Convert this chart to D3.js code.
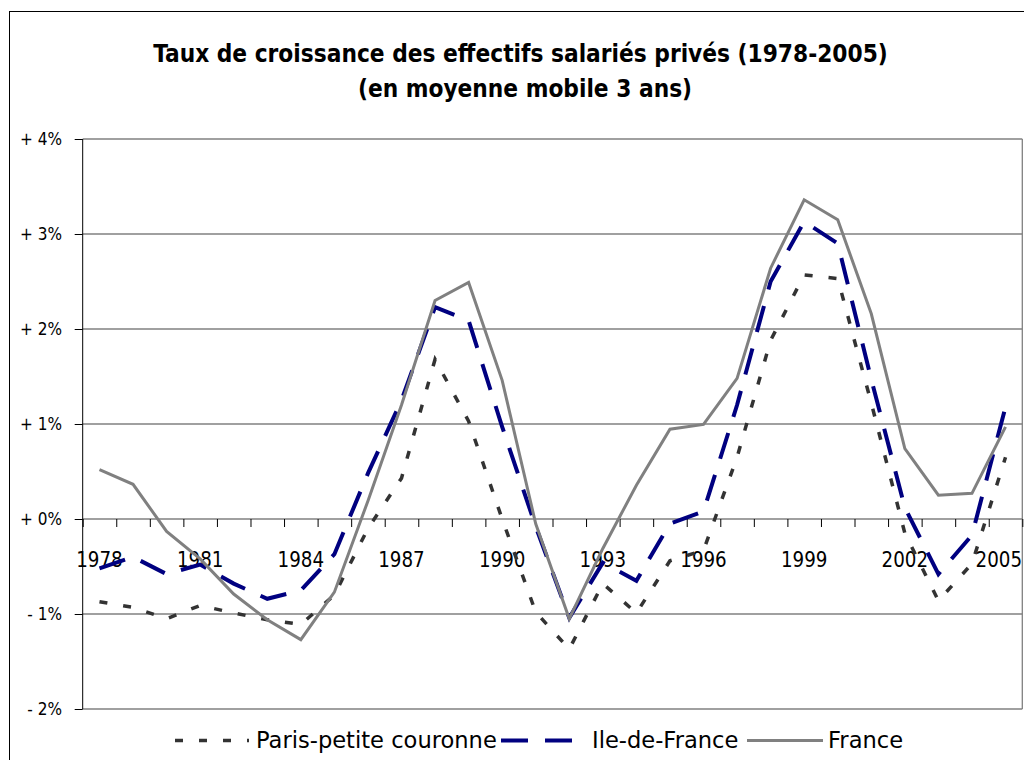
<!DOCTYPE html>
<html><head><meta charset="utf-8">
<script src="https://cdn.jsdelivr.net/npm/d3@7"></script>
<style>body{margin:0;background:#fff;overflow:hidden}</style>
</head><body><svg id="c" width="1024" height="760"></svg>
<script>
const years = ["1978","1979","1980","1981","1982","1983","1984","1985","1986","1987","1988","1989","1990","1991","1992","1993","1994","1995","1996","1997","1998","1999","2000","2001","2002","2003","2004","2005"];
const parisPC = [-0.87,-0.93,-1.05,-0.91,-0.99,-1.06,-1.11,-0.80,-0.10,0.43,1.68,1.03,0.00,-0.98,-1.37,-0.68,-0.99,-0.44,-0.33,0.65,1.88,2.57,2.53,1.22,-0.15,-0.86,-0.47,0.65];
const ileDeFrance = [-0.52,-0.40,-0.58,-0.48,-0.68,-0.84,-0.75,-0.37,0.48,1.25,2.23,2.09,0.97,-0.08,-1.04,-0.46,-0.65,-0.05,0.08,1.20,2.50,3.13,2.90,1.47,0.12,-0.58,-0.17,1.18];
const france = [0.52,0.365,-0.13,-0.42,-0.79,-1.06,-1.27,-0.77,0.19,1.20,2.30,2.49,1.46,-0.05,-1.05,-0.31,0.355,0.945,0.995,1.48,2.64,3.36,3.15,2.16,0.74,0.25,0.27,0.97];
const xTickLabels = ["1978","1981","1984","1987","1990","1993","1996","1999","2002","2005"];
const yTickValues = [-2,-1,0,1,2,3,4];
const yTickLabels = ["- 2%","- 1%","+ 0%","+ 1%","+ 2%","+ 3%","+ 4%"];
const seriesNames = ["Paris-petite couronne","Ile-de-France","France"];
const titleLines = ["Taux de croissance des effectifs salariés privés (1978-2005)","(en moyenne mobile 3 ans)"];

const svg = d3.select("#c");
const FONT = "'DejaVu Sans', sans-serif";
const FONTC = "'DejaVu Sans Condensed', 'DejaVu Sans', sans-serif";

function fitSize(text, family, weight, target){
  const t = svg.append("text").attr("font-family",family).attr("font-weight",weight)
    .attr("font-size",100).text(text);
  const w = t.node().getComputedTextLength();
  t.remove();
  return 100*target/w;
}

// outer chart border
svg.append("rect").attr("x",9.5).attr("y",11.5).attr("width",1100).attr("height",800)
  .attr("fill","none").attr("stroke","#000").attr("stroke-width",1);

// title
const titleSize = fitSize(titleLines[0], FONTC, "bold", 735);
svg.append("text").attr("x",520.5).attr("y",62).attr("text-anchor","middle")
  .attr("font-family",FONTC).attr("font-weight","bold").attr("font-size",titleSize)
  .attr("fill","#000").text(titleLines[0]);
svg.append("text").attr("x",525).attr("y",97).attr("text-anchor","middle")
  .attr("font-family",FONTC).attr("font-weight","bold").attr("font-size",titleSize)
  .attr("fill","#000").text(titleLines[1]);

// scales
const L = 82.7, R = 1022.3, T = 139, B = 709;
const y = d3.scaleLinear().domain([-2,4]).range([B,T]);
const xb = d3.scaleBand().domain(years).range([L,R]).padding(0);
const xc = d => xb(d) + xb.bandwidth()/2;
const xLin = d3.scaleLinear().domain([0, years.length]).range([L,R]);

// gridlines
svg.append("g").selectAll("line").data(yTickValues).join("line")
  .attr("x1",L).attr("x2",R).attr("y1",d=>y(d)).attr("y2",d=>y(d))
  .attr("stroke","#808080").attr("stroke-width",1.3);
// plot right border
svg.append("line").attr("x1",R).attr("x2",R).attr("y1",T).attr("y2",B)
  .attr("stroke","#808080").attr("stroke-width",1.3);

// y axis
const ySize = fitSize("+ 4%", FONTC, "normal", 42);
const yAxis = d3.axisLeft(y).tickValues(yTickValues).tickSize(8).tickPadding(0)
  .tickFormat((d,i)=>yTickLabels[i]);
const gy = svg.append("g").attr("transform",`translate(${L},0)`).call(yAxis);
gy.select(".domain").attr("stroke","#000").attr("d",`M0,${T}V${B}`);
gy.selectAll(".tick line").attr("stroke","#000");
gy.selectAll(".tick text").attr("x",-20.7).attr("dy","0.34em")
  .attr("font-family",FONTC).attr("font-size",ySize).attr("fill","#000");
gy.attr("font-family",null).attr("font-size",null);

// x axis ticks at the zero line (between categories)
const xAxis = d3.axisBottom(xLin).tickValues(d3.range(0, years.length+1)).tickSize(8).tickFormat("");
const gx = svg.append("g").attr("transform",`translate(0,${y(0)})`).call(xAxis);
gx.select(".domain").remove();
gx.selectAll(".tick line").attr("stroke","#000");

// x labels (last one kept inside the page)
const xSize = fitSize("1984", FONTC, "normal", 46.5);
svg.append("g").selectAll("text").data(xTickLabels).join("text")
  .attr("x",(d,i)=> i === xTickLabels.length-1 ? 1022 : xc(d))
  .attr("y",567)
  .attr("text-anchor",(d,i)=> i === xTickLabels.length-1 ? "end" : "middle")
  .attr("font-family",FONTC).attr("font-size",xSize).attr("fill","#000").text(d=>d);

// series
const styles = [
  {data: parisPC, color:"#333333", width:3.5, dash:"8,16"},
  {data: ileDeFrance, color:"#000080", width:4, dash:"27,17"},
  {data: france, color:"#808080", width:3, dash:null}
];
const line = d3.line().x((d,i)=>xc(years[i])).y(d=>y(d));
styles.forEach(s=>{
  svg.append("path").datum(s.data).attr("d",line).attr("fill","none")
    .attr("stroke",s.color).attr("stroke-width",s.width)
    .attr("stroke-dasharray",s.dash).attr("stroke-linejoin","miter");
});

// legend
const legSize = fitSize(seriesNames[0], FONT, "normal", 241);
const legItems = [
  {x1:175, x2:249, tx:256},
  {x1:501, x2:583, tx:592},
  {x1:747, x2:823, tx:828}
];
const legY = 740.5;
legItems.forEach((it,i)=>{
  const s = styles[i];
  svg.append("line").attr("x1",it.x1).attr("x2",it.x2).attr("y1",legY).attr("y2",legY)
    .attr("stroke",s.color).attr("stroke-width",s.width).attr("stroke-dasharray",s.dash);
  svg.append("text").attr("x",it.tx).attr("y",747.5).attr("font-family",FONT)
    .attr("font-size",legSize).attr("fill","#000").text(seriesNames[i]);
});
</script></body></html>
